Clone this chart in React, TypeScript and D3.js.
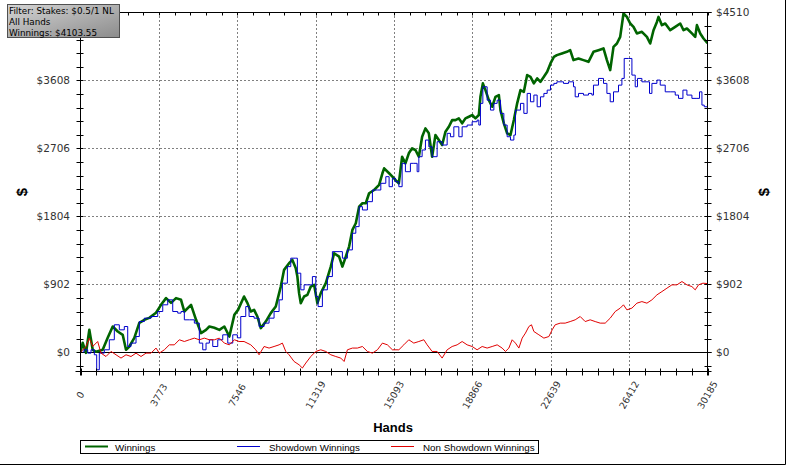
import React from 'react';
import * as d3 from 'd3';

const X_MAX = 30185;
const Y_MIN = -255;
const Y_MAX = 4510;
const Y_STEP = 902;
const X_DIVS = 8;

const winHands = [0,106,265,424,588,746,1069,1310,1551,1792,2032,2191,2350,2591,2832,3073,3313,3636,3877,4118,4358,4599,4840,4999,5322,5563,5803,6044,6203,6444,6685,6925,7166,7407,7585,7874,8033,8197,8356,8515,8679,8919,9160,9401,9642,9801,10041,10200,10364,10441,10523,10605,10764,10923,11087,11246,11404,11568,11809,12050,12209,12449,12608,12772,12931,13090,13254,13413,13572,13735,13894,14135,14376,14535,14617,14857,15016,15161,15325,15484,15642,15806,15965,16124,16288,16447,16606,16769,16928,17087,17251,17410,17569,17733,17892,18050,18214,18373,18532,18696,18855,19014,19177,19254,19370,19495,19659,19818,19977,20141,20218,20381,20540,20699,20863,21022,21181,21344,21503,21662,21826,21985,22144,22308,22467,22626,22789,22934,23175,23415,23574,23733,23974,24215,24455,24696,24937,25178,25342,25501,25660,25824,25982,26141,26305,26464,26623,26786,27027,27268,27427,27586,27750,27827,27991,28150,28391,28631,28872,29031,29194,29435,29594,29676,29835,29994,30185];
const winVals = [0,126,-7,298,33,7,33,192,342,276,232,33,77,192,391,431,457,524,630,719,656,719,696,541,630,431,255,298,342,325,298,342,209,497,563,740,656,541,563,475,321,408,520,607,872,1094,1183,1226,1116,1005,785,652,740,762,872,895,652,785,917,1137,1315,1270,1137,1270,1403,1624,1713,1933,1978,1978,2111,2154,2221,2376,2442,2376,2331,2287,2243,2596,2508,2641,2707,2685,2596,2861,2972,2906,2596,2883,2817,2751,2927,2993,3082,3082,3105,3039,3105,3126,3149,3105,3149,3391,3569,3480,3347,3259,3391,3414,3215,3039,2906,2883,3082,3304,3480,3457,3679,3656,3569,3635,3590,3656,3723,3834,3921,3944,3967,3988,4010,3878,3900,3878,3855,3988,4010,4033,3878,3745,4054,4099,4187,4497,4452,4364,4319,4232,4253,4187,4099,4275,4385,4452,4342,4364,4275,4319,4364,4275,4298,4232,4187,4342,4232,4165,4104];

const sdHands = [0,169,347,506,665,780,905,1146,1387,1628,1869,2109,2273,2432,2673,2832,3073,3395,3718,3959,4200,4440,4681,4840,4999,5240,5481,5721,5885,6044,6203,6367,6608,6848,7089,7330,7551,7715,7956,8115,8356,8597,8837,9078,9319,9560,9719,9960,10123,10364,10441,10605,10764,11005,11164,11327,11438,11645,11886,12127,12449,12608,12849,13090,13254,13413,13572,13812,14053,14294,14458,14698,14857,15016,15161,15325,15484,15642,15883,16047,16206,16288,16447,16606,16769,16928,17169,17410,17651,17810,17973,18214,18373,18614,18855,19095,19177,19254,19370,19577,19736,19900,20059,20218,20381,20540,20699,20863,20940,21181,21344,21503,21662,21826,21985,22144,22308,22467,22626,22789,22934,23252,23493,23733,23815,23974,24215,24455,24619,24696,24937,25178,25342,25501,25660,25901,26064,26175,26382,26546,26705,26815,27027,27268,27393,27509,27750,27909,28150,28391,28631,28790,29002,29194,29435,29676,29801,29917,30028,30185];
const sdVals = [0,33,-11,33,-33,-232,-11,33,166,365,298,342,77,122,209,408,453,475,541,630,696,541,520,541,431,431,387,122,33,122,166,77,166,232,122,232,192,475,607,475,453,342,387,453,541,696,917,1137,1249,1249,1050,829,895,895,1005,740,607,829,1005,1336,1336,1249,1359,1580,1668,1933,1889,1999,2154,2154,2243,2331,2198,2309,2264,2198,2508,2397,2508,2508,2397,2596,2685,2817,2728,2596,2795,2751,2906,2861,2993,2861,2993,3016,3060,3082,3016,3304,3524,3347,3215,3304,3347,3171,3016,2861,2817,2883,3215,3304,3171,3436,3325,3414,3259,3391,3436,3480,3546,3569,3590,3569,3590,3524,3391,3436,3414,3436,3414,3546,3635,3569,3436,3325,3457,3546,3635,3900,3900,3679,3524,3635,3590,3590,3436,3569,3613,3546,3457,3457,3414,3370,3480,3414,3370,3370,3457,3281,3259,3192];

const nsdHands = [0,265,424,588,828,987,1228,1469,1710,1950,2191,2432,2673,2914,3154,3395,3636,3795,4036,4277,4517,4758,4999,5240,5481,5721,5962,6203,6444,6685,6925,7166,7407,7633,7874,8197,8438,8597,8837,9078,9319,9560,9719,9882,10041,10282,10523,10682,10846,11087,11327,11568,11809,12050,12290,12531,12690,12849,13090,13331,13572,13812,14053,14294,14535,14775,15016,15325,15565,15806,16047,16288,16529,16688,16928,17169,17410,17651,17892,18132,18373,18614,18855,19095,19336,19577,19818,20059,20299,20458,20622,20781,20940,21104,21263,21422,21585,21711,21826,22067,22308,22548,22707,22852,23093,23333,23574,23815,24056,24296,24537,24778,25019,25260,25501,25741,25982,26141,26305,26546,26786,27027,27268,27509,27750,27991,28232,28472,28713,28954,29194,29435,29594,29753,29965,30185];
const nsdVals = [0,77,188,77,143,-11,-56,11,-33,-77,-33,-56,-11,-56,-11,-11,56,-11,33,99,99,166,143,166,188,166,188,166,166,188,122,99,166,143,143,99,33,-33,77,56,77,99,122,11,-33,-122,-166,-209,-143,-56,11,33,11,-33,-56,-77,-122,33,56,56,77,11,-11,33,122,99,33,33,99,166,122,143,166,99,11,11,-77,33,77,99,143,99,77,33,77,56,77,99,56,11,56,166,122,56,188,255,342,365,276,232,188,209,298,365,387,387,408,431,475,408,431,408,387,387,453,541,586,630,563,586,652,673,652,696,762,806,851,895,895,939,895,872,829,895,917,912];

const seriesNames = ['Winnings', 'Showdown Winnings', 'Non Showdown Winnings'];
const seriesColors = ['#006400', '#0000cc', '#e00000'];
const filterLines = ['Filter: Stakes: $0.5/1 NL', 'All Hands', 'Winnings: $4103.55'];

const L = 80.5, R = 707.5, T = 12.5, B = 371.5;
const FONT = 'Liberation Sans, Arial, sans-serif';
const TICKFONT = 'DejaVu Sans, Verdana, sans-serif';

export default function App() {
  const x = d3.scaleLinear().domain([0, X_MAX]).range([L, R]);
  const y = d3.scaleLinear().domain([Y_MIN, Y_MAX]).range([B, T]);
  const yMajor = d3.range(0, Y_MAX + 1, Y_STEP);
  const yMinor = d3.range(-Y_STEP / 5, Y_MAX + 1, Y_STEP / 5).filter(v => v >= Y_MIN);
  const xMajor = d3.range(0, X_DIVS + 1).map(i => (i * X_MAX) / X_DIVS);
  const xMinor = d3.range(0, X_DIVS * 5 + 1).map(i => (i * X_MAX) / (X_DIVS * 5));

  const mk = (hs: number[], vs: number[]) => hs.map((h, i) => [h, vs[i]] as [number, number]);
  const line = d3.line<[number, number]>().x(d => x(d[0])).y(d => y(d[1]));
  const stepLine = d3.line<[number, number]>().x(d => x(d[0])).y(d => y(d[1])).curve(d3.curveStepAfter);

  const yr = (v: number) => Math.round(y(v)) + 0.5;
  const xr = (v: number) => Math.round(x(v)) + 0.5;

  const legendItems = [
    { x0: 85, tx: 115 },
    { x0: 237, tx: 269 },
    { x0: 391, tx: 423 },
  ];

  return (
    <svg width={787} height={467} style={{ position: 'absolute', left: 0, top: 0, background: '#fff' }}>
      <defs>
        <linearGradient id="fg" x1="0" y1="0" x2="1" y2="1">
          <stop offset="0" stopColor="#d4d4d4" />
          <stop offset="1" stopColor="#8c8c8c" />
        </linearGradient>
        <clipPath id="plot">
          <rect x={L} y={T - 1} width={R - L} height={B - T + 1} />
        </clipPath>
      </defs>
      <rect x={0} y={0} width={787} height={467} fill="#fff" />
      {yMajor.filter(v => v > 0 && v < Y_MAX).map(v => (
        <line key={'gy' + v} x1={L} x2={R} y1={yr(v)} y2={yr(v)} stroke="#000" strokeDasharray="1,3" />
      ))}
      {xMajor.filter((v, i) => i > 0 && i < X_DIVS).map(v => (
        <line key={'gx' + v} x1={xr(v)} x2={xr(v)} y1={T} y2={B} stroke="#000" strokeDasharray="1,3" />
      ))}
      <line x1={L} x2={R + 4} y1={yr(0)} y2={yr(0)} stroke="#000" />
      <g clipPath="url(#plot)">
        <path d={line(mk(winHands, winVals)) || ''} fill="none" stroke={seriesColors[0]} strokeWidth={2.6} strokeLinejoin="round" />
        <path d={stepLine(mk(sdHands, sdVals)) || ''} fill="none" stroke={seriesColors[1]} strokeWidth={1} />
        <path d={line(mk(nsdHands, nsdVals)) || ''} fill="none" stroke={seriesColors[2]} strokeWidth={1} />
      </g>
      <line x1={L} x2={L} y1={T} y2={B + 4} stroke="#000" />
      <line x1={R} x2={R} y1={T} y2={B + 4} stroke="#000" />
      <line x1={L - 5} x2={R + 4} y1={B} y2={B} stroke="#000" />
      <line x1={L} x2={R + 4} y1={T} y2={T} stroke="#000" />
      {yMinor.map(v => (
        <g key={'yt' + v}>
          <line x1={L - 4} x2={L + 3} y1={yr(v)} y2={yr(v)} stroke="#000" />
          <line x1={R - 3} x2={R + 4} y1={yr(v)} y2={yr(v)} stroke="#000" />
        </g>
      ))}
      {xMinor.map(v => (
        <g key={'xt' + v}>
          <line x1={xr(v)} x2={xr(v)} y1={B - 3} y2={B + 4} stroke="#000" />
          <line x1={xr(v)} x2={xr(v)} y1={T} y2={T + 3} stroke="#000" />
        </g>
      ))}
      {yMajor.filter(v => v < Y_MAX).map(v => (
        <text key={'yl' + v} x={70} y={y(v)} dy="0.35em" textAnchor="end" fontFamily={TICKFONT} fontSize={10.5} fill="#333">
          {'$' + v}
        </text>
      ))}
      {yMajor.map(v => (
        <text key={'yr' + v} x={716} y={y(v)} dy="0.35em" textAnchor="start" fontFamily={TICKFONT} fontSize={10.5} fill="#333">
          {'$' + v}
        </text>
      ))}
      {xMajor.map(v => (
        <text key={'xl' + v} x={0} y={0} transform={`translate(${x(v)},395) rotate(-60)`} dy="0.35em" textAnchor="middle" fontFamily={TICKFONT} fontSize={9.5} fill="#333">
          {String(Math.round(v))}
        </text>
      ))}
      <text transform="translate(22,192) rotate(-90)" textAnchor="middle" dy="0.35em" fontFamily={FONT} fontWeight="bold" fontSize={15}>$</text>
      <text transform="translate(764,192) rotate(-90)" textAnchor="middle" dy="0.35em" fontFamily={FONT} fontWeight="bold" fontSize={15}>$</text>
      <text x={393} y={432} textAnchor="middle" fontFamily={FONT} fontWeight="bold" fontSize={13}>Hands</text>
      <rect x={80.5} y={440.5} width={458} height={13} fill="#fff" stroke="#000" />
      {seriesNames.map((n, i) => (
        <g key={n}>
          <line x1={legendItems[i].x0} x2={legendItems[i].x0 + 23} y1={446.5} y2={446.5} stroke={seriesColors[i]} strokeWidth={i === 0 ? 2 : 1} />
          <text x={legendItems[i].tx} y={450.5} fontFamily={FONT} fontSize={9.8} fill="#000">{n}</text>
        </g>
      ))}
      <line x1={0} x2={785.5} y1={464.5} y2={464.5} stroke="#000" />
      <line x1={785.5} x2={785.5} y1={0} y2={464.5} stroke="#000" />
      <rect x={7.5} y={4.5} width={112} height={33} fill="url(#fg)" stroke="#505050" />
      {filterLines.map((t, i) => (
        <text key={t} x={9} y={13.5 + i * 11.2} fontFamily={TICKFONT} fontSize={8.8} fill="#000">{t}</text>
      ))}
    </svg>
  );
}
